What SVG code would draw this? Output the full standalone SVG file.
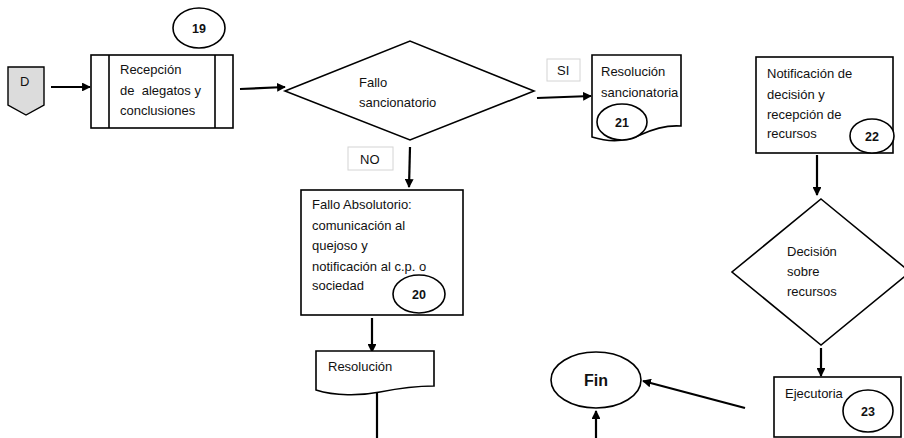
<svg xmlns="http://www.w3.org/2000/svg" width="904" height="438" viewBox="0 0 904 438">
<defs>
<marker id="ah" viewBox="0 0 10 10" refX="9" refY="5" markerWidth="4" markerHeight="4" orient="auto" markerUnits="strokeWidth">
<path d="M0,0 L10,5 L0,10 z" fill="#000"/>
</marker>
<style>
.s{fill:#fff;stroke:#000;stroke-width:1.6}
.t{font-family:"Liberation Sans",Arial,sans-serif;font-size:13px;fill:#111}
.n{font-family:"Liberation Sans",Arial,sans-serif;font-size:12.5px;font-weight:bold;fill:#111;text-anchor:middle}
.f{font-size:16px}
.c{fill:none;stroke:#000;stroke-width:2.2}
.lb{fill:#fff;stroke:#d4d4d4;stroke-width:1}
</style>
</defs>
<rect width="904" height="438" fill="#fff"/>
<g id="connectors">
<line class="c" x1="51" y1="87" x2="90" y2="87" marker-end="url(#ah)"/>
<line class="c" x1="240" y1="89" x2="285" y2="87" marker-end="url(#ah)"/>
<line class="c" x1="537" y1="98" x2="591" y2="96" marker-end="url(#ah)"/>
<line class="c" x1="410" y1="147" x2="409" y2="187" marker-end="url(#ah)"/>
<line class="c" x1="372" y1="318" x2="372" y2="352" marker-end="url(#ah)"/>
<line class="c" x1="377" y1="393" x2="377" y2="438"/>
<line class="c" x1="817" y1="155" x2="817" y2="195" marker-end="url(#ah)"/>
<line class="c" x1="821" y1="348" x2="821" y2="376" marker-end="url(#ah)"/>
<line class="c" x1="745" y1="408" x2="643" y2="381" marker-end="url(#ah)"/>
<line class="c" x1="596" y1="438" x2="596" y2="411" marker-end="url(#ah)"/>
</g>
<g id="lbl-si"><rect class="lb" x="547" y="59" width="33" height="22"/><text class="t" x="557" y="75">SI</text></g>
<g id="lbl-no"><rect class="lb" x="348" y="147" width="45" height="23"/><text class="t" x="360" y="164">NO</text></g>
<g id="D">
<path d="M8,67 H44 V105 L26,115 L8,105 Z" fill="#dcdcdc" stroke="#000" stroke-width="1.4"/>
<text class="t" x="20" y="86">D</text>
</g>
<g id="n19">
<ellipse class="s" cx="199" cy="28" rx="26" ry="20"/>
<text class="n" x="199" y="33">19</text>
</g>
<g id="recepcion">
<rect class="s" x="91" y="55" width="142" height="73"/>
<line x1="109" y1="55" x2="109" y2="128" stroke="#000" stroke-width="1.6"/>
<line x1="215" y1="55" x2="215" y2="128" stroke="#000" stroke-width="1.6"/>
<text class="t" x="120" y="74">Recepción</text>
<text class="t" x="120" y="95" xml:space="preserve">de  alegatos y</text>
<text class="t" x="120" y="115">conclusiones</text>
</g>
<g id="fallo">
<path class="s" d="M285,91 L410,41 L534,91 L410,140 Z"/>
<text class="t" x="359" y="87">Fallo</text>
<text class="t" x="359" y="107">sancionatorio</text>
</g>
<g id="res-sanc">
<path class="s" d="M592,55 H681 V126 C668,125 655,128 640,135 C625,142 608,142 592,137 Z"/>
<text class="t" x="601" y="76">Resolución</text>
<text class="t" x="601" y="97">sancionatoria</text>
<ellipse class="s" cx="622" cy="122" rx="25" ry="18"/>
<text class="n" x="622" y="127">21</text>
</g>
<g id="notif">
<rect class="s" x="756" y="57" width="137" height="96"/>
<text class="t" x="767" y="78">Notificación de</text>
<text class="t" x="767" y="99">decisión y</text>
<text class="t" x="767" y="119">recepción de</text>
<text class="t" x="767" y="138">recursos</text>
<ellipse class="s" cx="872" cy="136" rx="22" ry="17"/>
<text class="n" x="872" y="141">22</text>
</g>
<g id="decision">
<path class="s" d="M821,199 L910,272 L821,345 L732,272 Z"/>
<text class="t" x="787" y="256">Decisión</text>
<text class="t" x="787" y="276">sobre</text>
<text class="t" x="787" y="296">recursos</text>
</g>
<g id="ejecutoria">
<rect class="s" x="774" y="377" width="127" height="60"/>
<text class="t" x="785" y="398">Ejecutoria</text>
<ellipse class="s" cx="868" cy="411" rx="25" ry="21"/>
<text class="n" x="868" y="416">23</text>
</g>
<g id="fin">
<ellipse class="s" cx="596" cy="380" rx="45" ry="28"/>
<text class="n f" x="596" y="386">Fin</text>
</g>
<g id="absolutorio">
<rect class="s" x="301" y="190" width="162" height="125"/>
<text class="t" x="312" y="209">Fallo Absolutorio:</text>
<text class="t" x="312" y="230">comunicación al</text>
<text class="t" x="312" y="250">quejoso y</text>
<text class="t" x="312" y="271">notificación al c.p. o</text>
<text class="t" x="312" y="290">sociedad</text>
<ellipse class="s" cx="419" cy="294" rx="26" ry="19"/>
<text class="n" x="419" y="299">20</text>
</g>
<g id="resolucion">
<path class="s" d="M316,351 H434 V386 C420,386 400,388 380,392 C360,396 335,396 316,390 Z"/>
<text class="t" x="328" y="371">Resolución</text>
</g>
</svg>
